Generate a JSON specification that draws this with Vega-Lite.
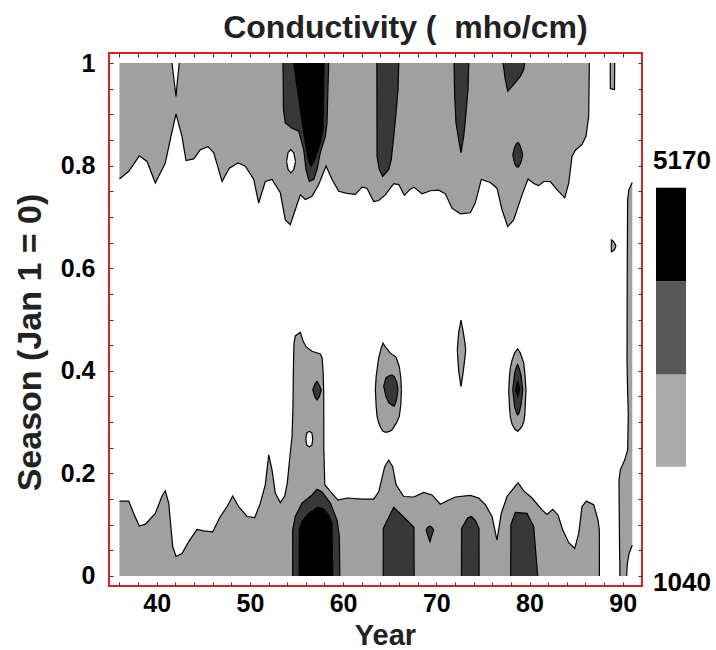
{
"$schema":"https://vega.github.io/schema/vega-lite/v6.json",
"background":"white",
"padding":{"left":12,"top":12,"right":0,"bottom":0},
"title":{"text":"Conductivity (\u00a0\u00a0mho/cm)","font":"Liberation Sans","fontSize":32,"fontWeight":"bold","color":"#222222","anchor":"middle","frame":"bounds","dx":44,"offset":5},
"config":{"font":"Liberation Sans"},
"datasets":{
"A":[
{"s":"T","lv":1,"e":"t","x":36.0,"lo":0.774,"hi":1},{"s":"T","lv":1,"e":"t","x":37.0,"lo":0.789,"hi":1},{"s":"T","lv":1,"e":"t","x":38.13,"lo":0.819,"hi":1},{"s":"T","lv":1,"e":"t","x":38.96,"lo":0.808,"hi":1},{"s":"T","lv":1,"e":"t","x":39.85,"lo":0.766,"hi":1},{"s":"T","lv":1,"e":"t","x":40.92,"lo":0.805,"hi":1},{"s":"T","lv":1,"e":"t","x":41.46,"lo":0.851,"hi":1},{"s":"T","lv":1,"e":"t","x":42.07,"lo":0.901,"hi":1},{"s":"T","lv":1,"e":"t","x":42.71,"lo":0.857,"hi":1},{"s":"T","lv":1,"e":"t","x":43.14,"lo":0.81,"hi":1},{"s":"T","lv":1,"e":"t","x":43.97,"lo":0.813,"hi":1},{"s":"T","lv":1,"e":"t","x":44.68,"lo":0.831,"hi":1},{"s":"T","lv":1,"e":"t","x":45.5,"lo":0.837,"hi":1},{"s":"T","lv":1,"e":"t","x":46.12,"lo":0.825,"hi":1},{"s":"T","lv":1,"e":"t","x":47.01,"lo":0.769,"hi":1},{"s":"T","lv":1,"e":"t","x":47.79,"lo":0.795,"hi":1},{"s":"T","lv":1,"e":"t","x":48.72,"lo":0.805,"hi":1},{"s":"T","lv":1,"e":"t","x":49.51,"lo":0.799,"hi":1},{"s":"T","lv":1,"e":"t","x":50.41,"lo":0.773,"hi":1},{"s":"T","lv":1,"e":"t","x":50.94,"lo":0.727,"hi":1},{"s":"T","lv":1,"e":"t","x":51.65,"lo":0.769,"hi":1},{"s":"T","lv":1,"e":"t","x":52.37,"lo":0.773,"hi":1},{"s":"T","lv":1,"e":"t","x":53.26,"lo":0.747,"hi":1},{"s":"T","lv":1,"e":"t","x":53.8,"lo":0.694,"hi":1},{"s":"T","lv":1,"e":"t","x":54.33,"lo":0.685,"hi":1},{"s":"T","lv":1,"e":"t","x":54.87,"lo":0.714,"hi":1},{"s":"T","lv":1,"e":"t","x":55.41,"lo":0.743,"hi":1},{"s":"T","lv":1,"e":"t","x":55.94,"lo":0.734,"hi":1},{"s":"T","lv":1,"e":"t","x":56.66,"lo":0.74,"hi":1},{"s":"T","lv":1,"e":"t","x":57.38,"lo":0.763,"hi":1},{"s":"T","lv":1,"e":"t","x":58.17,"lo":0.799,"hi":1},{"s":"T","lv":1,"e":"t","x":58.81,"lo":0.773,"hi":1},{"s":"T","lv":1,"e":"t","x":59.53,"lo":0.75,"hi":1},{"s":"T","lv":1,"e":"t","x":60.4,"lo":0.746,"hi":1},{"s":"T","lv":1,"e":"t","x":61.31,"lo":0.744,"hi":1},{"s":"T","lv":1,"e":"t","x":62.03,"lo":0.758,"hi":1},{"s":"T","lv":1,"e":"t","x":62.56,"lo":0.756,"hi":1},{"s":"T","lv":1,"e":"t","x":63.28,"lo":0.73,"hi":1},{"s":"T","lv":1,"e":"t","x":63.82,"lo":0.732,"hi":1},{"s":"T","lv":1,"e":"t","x":64.53,"lo":0.743,"hi":1},{"s":"T","lv":1,"e":"t","x":65.43,"lo":0.765,"hi":1},{"s":"T","lv":1,"e":"t","x":65.97,"lo":0.763,"hi":1},{"s":"T","lv":1,"e":"t","x":66.57,"lo":0.742,"hi":1},{"s":"T","lv":1,"e":"t","x":67.21,"lo":0.754,"hi":1},{"s":"T","lv":1,"e":"t","x":67.58,"lo":0.758,"hi":1},{"s":"T","lv":1,"e":"t","x":68.47,"lo":0.745,"hi":1},{"s":"T","lv":1,"e":"t","x":69.36,"lo":0.751,"hi":1},{"s":"T","lv":1,"e":"t","x":70.26,"lo":0.752,"hi":1},{"s":"T","lv":1,"e":"t","x":70.97,"lo":0.745,"hi":1},{"s":"T","lv":1,"e":"t","x":71.68,"lo":0.717,"hi":1},{"s":"T","lv":1,"e":"t","x":72.58,"lo":0.706,"hi":1},{"s":"T","lv":1,"e":"t","x":73.65,"lo":0.708,"hi":1},{"s":"T","lv":1,"e":"t","x":74.18,"lo":0.727,"hi":1},{"s":"T","lv":1,"e":"t","x":74.83,"lo":0.773,"hi":1},{"s":"T","lv":1,"e":"t","x":75.79,"lo":0.767,"hi":1},{"s":"T","lv":1,"e":"t","x":76.51,"lo":0.756,"hi":1},{"s":"T","lv":1,"e":"t","x":77.05,"lo":0.714,"hi":1},{"s":"T","lv":1,"e":"t","x":77.66,"lo":0.681,"hi":1},{"s":"T","lv":1,"e":"t","x":78.3,"lo":0.694,"hi":1},{"s":"T","lv":1,"e":"t","x":79.2,"lo":0.743,"hi":1},{"s":"T","lv":1,"e":"t","x":79.84,"lo":0.774,"hi":1},{"s":"T","lv":1,"e":"t","x":80.45,"lo":0.765,"hi":1},{"s":"T","lv":1,"e":"t","x":80.99,"lo":0.761,"hi":1},{"s":"T","lv":1,"e":"t","x":81.52,"lo":0.769,"hi":1},{"s":"T","lv":1,"e":"t","x":82.23,"lo":0.769,"hi":1},{"s":"T","lv":1,"e":"t","x":82.95,"lo":0.753,"hi":1},{"s":"T","lv":1,"e":"t","x":83.78,"lo":0.737,"hi":1},{"s":"T","lv":1,"e":"t","x":84.21,"lo":0.766,"hi":1},{"s":"T","lv":1,"e":"t","x":84.56,"lo":0.818,"hi":1},{"s":"T","lv":1,"e":"t","x":84.92,"lo":0.83,"hi":1},{"s":"T","lv":1,"e":"t","x":85.63,"lo":0.841,"hi":1},{"s":"T","lv":1,"e":"t","x":86.06,"lo":0.857,"hi":1},{"s":"T","lv":1,"e":"t","x":86.35,"lo":0.896,"hi":1},{"s":"T","lv":1,"e":"t","x":86.42,"lo":1.0,"hi":1},
{"s":"H1","lv":0,"e":"t","x":41.64,"lo":1.0,"hi":1},{"s":"H1","lv":0,"e":"t","x":41.87,"lo":0.965,"hi":1},{"s":"H1","lv":0,"e":"t","x":42.07,"lo":0.935,"hi":1},{"s":"H1","lv":0,"e":"t","x":42.22,"lo":0.965,"hi":1},{"s":"H1","lv":0,"e":"t","x":42.42,"lo":1.0,"hi":1},
{"s":"H2","lv":0,"e":"c","x":53.93,"lo":0.808,"hi":0.808},{"s":"H2","lv":0,"e":"c","x":54.1,"lo":0.792,"hi":0.826},{"s":"H2","lv":0,"e":"c","x":54.4,"lo":0.786,"hi":0.831},{"s":"H2","lv":0,"e":"c","x":54.7,"lo":0.792,"hi":0.825},{"s":"H2","lv":0,"e":"c","x":54.9,"lo":0.808,"hi":0.808},
{"s":"D1","lv":2,"e":"t","x":53.55,"lo":1.0,"hi":1},{"s":"D1","lv":2,"e":"t","x":53.6,"lo":0.909,"hi":1},{"s":"D1","lv":2,"e":"t","x":53.8,"lo":0.883,"hi":1},{"s":"D1","lv":2,"e":"t","x":54.52,"lo":0.873,"hi":1},{"s":"D1","lv":2,"e":"t","x":55.24,"lo":0.867,"hi":1},{"s":"D1","lv":2,"e":"t","x":55.77,"lo":0.831,"hi":1},{"s":"D1","lv":2,"e":"t","x":56.02,"lo":0.792,"hi":1},{"s":"D1","lv":2,"e":"t","x":56.37,"lo":0.769,"hi":1},{"s":"D1","lv":2,"e":"t","x":56.85,"lo":0.773,"hi":1},{"s":"D1","lv":2,"e":"t","x":57.2,"lo":0.792,"hi":1},{"s":"D1","lv":2,"e":"t","x":57.55,"lo":0.825,"hi":1},{"s":"D1","lv":2,"e":"t","x":58.09,"lo":0.857,"hi":1},{"s":"D1","lv":2,"e":"t","x":58.27,"lo":0.883,"hi":1},{"s":"D1","lv":2,"e":"t","x":58.35,"lo":0.935,"hi":1},{"s":"D1","lv":2,"e":"t","x":58.45,"lo":1.0,"hi":1},
{"s":"B1","lv":3,"e":"t","x":54.7,"lo":1.0,"hi":1},{"s":"B1","lv":3,"e":"t","x":55.05,"lo":0.955,"hi":1},{"s":"B1","lv":3,"e":"t","x":55.52,"lo":0.896,"hi":1},{"s":"B1","lv":3,"e":"t","x":55.88,"lo":0.851,"hi":1},{"s":"B1","lv":3,"e":"t","x":56.31,"lo":0.808,"hi":1},{"s":"B1","lv":3,"e":"t","x":56.59,"lo":0.799,"hi":1},{"s":"B1","lv":3,"e":"t","x":57.02,"lo":0.815,"hi":1},{"s":"B1","lv":3,"e":"t","x":57.55,"lo":0.844,"hi":1},{"s":"B1","lv":3,"e":"t","x":57.84,"lo":0.87,"hi":1},{"s":"B1","lv":3,"e":"t","x":57.92,"lo":0.935,"hi":1},{"s":"B1","lv":3,"e":"t","x":57.95,"lo":1.0,"hi":1},
{"s":"D2","lv":2,"e":"t","x":63.62,"lo":1.0,"hi":1},{"s":"D2","lv":2,"e":"t","x":63.64,"lo":0.818,"hi":1},{"s":"D2","lv":2,"e":"t","x":63.89,"lo":0.792,"hi":1},{"s":"D2","lv":2,"e":"t","x":64.25,"lo":0.779,"hi":1},{"s":"D2","lv":2,"e":"t","x":64.89,"lo":0.792,"hi":1},{"s":"D2","lv":2,"e":"t","x":65.17,"lo":0.812,"hi":1},{"s":"D2","lv":2,"e":"t","x":65.43,"lo":0.857,"hi":1},{"s":"D2","lv":2,"e":"t","x":65.68,"lo":0.903,"hi":1},{"s":"D2","lv":2,"e":"t","x":65.89,"lo":0.948,"hi":1},{"s":"D2","lv":2,"e":"t","x":65.97,"lo":1.0,"hi":1},
{"s":"D3","lv":2,"e":"t","x":71.9,"lo":1.0,"hi":1},{"s":"D3","lv":2,"e":"t","x":71.97,"lo":0.935,"hi":1},{"s":"D3","lv":2,"e":"t","x":72.11,"lo":0.883,"hi":1},{"s":"D3","lv":2,"e":"t","x":72.4,"lo":0.851,"hi":1},{"s":"D3","lv":2,"e":"t","x":72.65,"lo":0.825,"hi":1},{"s":"D3","lv":2,"e":"t","x":72.94,"lo":0.857,"hi":1},{"s":"D3","lv":2,"e":"t","x":73.19,"lo":0.903,"hi":1},{"s":"D3","lv":2,"e":"t","x":73.4,"lo":0.948,"hi":1},{"s":"D3","lv":2,"e":"t","x":73.48,"lo":1.0,"hi":1},
{"s":"D4","lv":2,"e":"t","x":77.16,"lo":1.0,"hi":1},{"s":"D4","lv":2,"e":"t","x":77.4,"lo":0.968,"hi":1},{"s":"D4","lv":2,"e":"t","x":77.66,"lo":0.945,"hi":1},{"s":"D4","lv":2,"e":"t","x":78.3,"lo":0.958,"hi":1},{"s":"D4","lv":2,"e":"t","x":79.01,"lo":0.974,"hi":1},{"s":"D4","lv":2,"e":"t","x":79.38,"lo":0.987,"hi":1},{"s":"D4","lv":2,"e":"t","x":79.48,"lo":1.0,"hi":1},
{"s":"D5","lv":2,"e":"c","x":78.2,"lo":0.821,"hi":0.821},{"s":"D5","lv":2,"e":"c","x":78.4,"lo":0.805,"hi":0.835},{"s":"D5","lv":2,"e":"c","x":78.6,"lo":0.798,"hi":0.843},{"s":"D5","lv":2,"e":"c","x":78.8,"lo":0.797,"hi":0.845},{"s":"D5","lv":2,"e":"c","x":79.0,"lo":0.803,"hi":0.838},{"s":"D5","lv":2,"e":"c","x":79.15,"lo":0.811,"hi":0.83},{"s":"D5","lv":2,"e":"c","x":79.27,"lo":0.821,"hi":0.821},
{"s":"S1","lv":1,"e":"t","x":88.66,"lo":1.0,"hi":1},{"s":"S1","lv":1,"e":"t","x":88.67,"lo":0.95,"hi":1},{"s":"S1","lv":1,"e":"t","x":89.12,"lo":0.948,"hi":1},{"s":"S1","lv":1,"e":"t","x":89.14,"lo":1.0,"hi":1},
{"s":"S2","lv":1,"e":"c","x":88.78,"lo":0.643,"hi":0.643},{"s":"S2","lv":1,"e":"c","x":88.79,"lo":0.632,"hi":0.655},{"s":"S2","lv":1,"e":"c","x":89.0,"lo":0.634,"hi":0.652},{"s":"S2","lv":1,"e":"c","x":89.15,"lo":0.637,"hi":0.648},{"s":"S2","lv":1,"e":"c","x":89.28,"lo":0.643,"hi":0.643},
{"s":"BB","lv":1,"e":"b","x":36.0,"lo":0,"hi":0.146},{"s":"BB","lv":1,"e":"b","x":37.0,"lo":0,"hi":0.146},{"s":"BB","lv":1,"e":"b","x":37.53,"lo":0,"hi":0.122},{"s":"BB","lv":1,"e":"b","x":38.13,"lo":0,"hi":0.0975},{"s":"BB","lv":1,"e":"b","x":38.78,"lo":0,"hi":0.101},{"s":"BB","lv":1,"e":"b","x":39.85,"lo":0,"hi":0.122},{"s":"BB","lv":1,"e":"b","x":40.57,"lo":0,"hi":0.156},{"s":"BB","lv":1,"e":"b","x":40.92,"lo":0,"hi":0.166},{"s":"BB","lv":1,"e":"b","x":41.29,"lo":0,"hi":0.142},{"s":"BB","lv":1,"e":"b","x":41.72,"lo":0,"hi":0.057},{"s":"BB","lv":1,"e":"b","x":42.07,"lo":0,"hi":0.038},{"s":"BB","lv":1,"e":"b","x":42.71,"lo":0,"hi":0.044},{"s":"BB","lv":1,"e":"b","x":43.43,"lo":0,"hi":0.067},{"s":"BB","lv":1,"e":"b","x":44.32,"lo":0,"hi":0.091},{"s":"BB","lv":1,"e":"b","x":45.04,"lo":0,"hi":0.088},{"s":"BB","lv":1,"e":"b","x":46.01,"lo":0,"hi":0.086},{"s":"BB","lv":1,"e":"b","x":46.82,"lo":0,"hi":0.116},{"s":"BB","lv":1,"e":"b","x":47.54,"lo":0,"hi":0.135},{"s":"BB","lv":1,"e":"b","x":48.15,"lo":0,"hi":0.156},{"s":"BB","lv":1,"e":"b","x":48.8,"lo":0,"hi":0.135},{"s":"BB","lv":1,"e":"b","x":49.69,"lo":0,"hi":0.116},{"s":"BB","lv":1,"e":"b","x":50.52,"lo":0,"hi":0.114},{"s":"BB","lv":1,"e":"b","x":51.12,"lo":0,"hi":0.142},{"s":"BB","lv":1,"e":"b","x":51.65,"lo":0,"hi":0.178},{"s":"BB","lv":1,"e":"b","x":52.02,"lo":0,"hi":0.236},{"s":"BB","lv":1,"e":"b","x":52.37,"lo":0,"hi":0.207},{"s":"BB","lv":1,"e":"b","x":52.73,"lo":0,"hi":0.161},{"s":"BB","lv":1,"e":"b","x":53.26,"lo":0,"hi":0.143},{"s":"BB","lv":1,"e":"b","x":53.73,"lo":0,"hi":0.156},{"s":"BB","lv":1,"e":"b","x":54.01,"lo":0,"hi":0.181},{"s":"BB","lv":1,"e":"b","x":54.3,"lo":0,"hi":0.235},{"s":"BB","lv":1,"e":"b","x":54.52,"lo":0,"hi":0.272},{"s":"BB","lv":1,"e":"b","x":54.62,"lo":0,"hi":0.33},{"s":"BB","lv":1,"e":"b","x":54.66,"lo":0,"hi":0.4},{"s":"BB","lv":1,"e":"b","x":54.72,"lo":0,"hi":0.452},{"s":"BB","lv":1,"e":"b","x":54.87,"lo":0,"hi":0.468},{"s":"BB","lv":1,"e":"b","x":55.41,"lo":0,"hi":0.475},{"s":"BB","lv":1,"e":"b","x":55.7,"lo":0,"hi":0.458},{"s":"BB","lv":1,"e":"b","x":56.02,"lo":0,"hi":0.447},{"s":"BB","lv":1,"e":"b","x":56.66,"lo":0,"hi":0.438},{"s":"BB","lv":1,"e":"b","x":57.55,"lo":0,"hi":0.433},{"s":"BB","lv":1,"e":"b","x":57.75,"lo":0,"hi":0.425},{"s":"BB","lv":1,"e":"b","x":57.85,"lo":0,"hi":0.4},{"s":"BB","lv":1,"e":"b","x":57.92,"lo":0,"hi":0.36},{"s":"BB","lv":1,"e":"b","x":57.93,"lo":0,"hi":0.25},{"s":"BB","lv":1,"e":"b","x":58.03,"lo":0,"hi":0.178},{"s":"BB","lv":1,"e":"b","x":58.81,"lo":0,"hi":0.161},{"s":"BB","lv":1,"e":"b","x":59.45,"lo":0,"hi":0.148},{"s":"BB","lv":1,"e":"b","x":60.42,"lo":0,"hi":0.152},{"s":"BB","lv":1,"e":"b","x":62.03,"lo":0,"hi":0.15},{"s":"BB","lv":1,"e":"b","x":63.28,"lo":0,"hi":0.15},{"s":"BB","lv":1,"e":"b","x":63.82,"lo":0,"hi":0.164},{"s":"BB","lv":1,"e":"b","x":64.46,"lo":0,"hi":0.213},{"s":"BB","lv":1,"e":"b","x":64.89,"lo":0,"hi":0.226},{"s":"BB","lv":1,"e":"b","x":65.32,"lo":0,"hi":0.213},{"s":"BB","lv":1,"e":"b","x":65.68,"lo":0,"hi":0.178},{"s":"BB","lv":1,"e":"b","x":66.5,"lo":0,"hi":0.155},{"s":"BB","lv":1,"e":"b","x":67.58,"lo":0,"hi":0.154},{"s":"BB","lv":1,"e":"b","x":68.65,"lo":0,"hi":0.163},{"s":"BB","lv":1,"e":"b","x":69.54,"lo":0,"hi":0.158},{"s":"BB","lv":1,"e":"b","x":70.43,"lo":0,"hi":0.14},{"s":"BB","lv":1,"e":"b","x":71.33,"lo":0,"hi":0.148},{"s":"BB","lv":1,"e":"b","x":72.04,"lo":0,"hi":0.154},{"s":"BB","lv":1,"e":"b","x":73.65,"lo":0,"hi":0.157},{"s":"BB","lv":1,"e":"b","x":74.55,"lo":0,"hi":0.152},{"s":"BB","lv":1,"e":"b","x":75.26,"lo":0,"hi":0.139},{"s":"BB","lv":1,"e":"b","x":75.98,"lo":0,"hi":0.116},{"s":"BB","lv":1,"e":"b","x":76.51,"lo":0,"hi":0.07},{"s":"BB","lv":1,"e":"b","x":76.97,"lo":0,"hi":0.122},{"s":"BB","lv":1,"e":"b","x":77.59,"lo":0,"hi":0.155},{"s":"BB","lv":1,"e":"b","x":78.77,"lo":0,"hi":0.182},{"s":"BB","lv":1,"e":"b","x":79.38,"lo":0,"hi":0.166},{"s":"BB","lv":1,"e":"b","x":80.27,"lo":0,"hi":0.152},{"s":"BB","lv":1,"e":"b","x":81.34,"lo":0,"hi":0.129},{"s":"BB","lv":1,"e":"b","x":81.88,"lo":0,"hi":0.12},{"s":"BB","lv":1,"e":"b","x":82.49,"lo":0,"hi":0.13},{"s":"BB","lv":1,"e":"b","x":83.06,"lo":0,"hi":0.119},{"s":"BB","lv":1,"e":"b","x":83.56,"lo":0,"hi":0.09},{"s":"BB","lv":1,"e":"b","x":84.21,"lo":0,"hi":0.065},{"s":"BB","lv":1,"e":"b","x":84.85,"lo":0,"hi":0.054},{"s":"BB","lv":1,"e":"b","x":85.28,"lo":0,"hi":0.083},{"s":"BB","lv":1,"e":"b","x":85.63,"lo":0,"hi":0.135},{"s":"BB","lv":1,"e":"b","x":86.09,"lo":0,"hi":0.146},{"s":"BB","lv":1,"e":"b","x":86.89,"lo":0,"hi":0.139},{"s":"BB","lv":1,"e":"b","x":87.35,"lo":0,"hi":0.109},{"s":"BB","lv":1,"e":"b","x":87.49,"lo":0,"hi":0.09},{"s":"BB","lv":1,"e":"b","x":87.5,"lo":0,"hi":0},
{"s":"H3","lv":0,"e":"c","x":56.0,"lo":0.267,"hi":0.267},{"s":"H3","lv":0,"e":"c","x":56.1,"lo":0.255,"hi":0.279},{"s":"H3","lv":0,"e":"c","x":56.38,"lo":0.252,"hi":0.282},{"s":"H3","lv":0,"e":"c","x":56.65,"lo":0.255,"hi":0.279},{"s":"H3","lv":0,"e":"c","x":56.74,"lo":0.267,"hi":0.267},
{"s":"D6","lv":2,"e":"c","x":56.74,"lo":0.363,"hi":0.363},{"s":"D6","lv":2,"e":"c","x":57.0,"lo":0.348,"hi":0.375},{"s":"D6","lv":2,"e":"c","x":57.2,"lo":0.343,"hi":0.379},{"s":"D6","lv":2,"e":"c","x":57.45,"lo":0.35,"hi":0.372},{"s":"D6","lv":2,"e":"c","x":57.66,"lo":0.363,"hi":0.363},
{"s":"L3","lv":1,"e":"c","x":63.46,"lo":0.363,"hi":0.363},{"s":"L3","lv":1,"e":"c","x":63.55,"lo":0.33,"hi":0.39},{"s":"L3","lv":1,"e":"c","x":63.64,"lo":0.311,"hi":0.402},{"s":"L3","lv":1,"e":"c","x":63.82,"lo":0.298,"hi":0.425},{"s":"L3","lv":1,"e":"c","x":64.1,"lo":0.287,"hi":0.445},{"s":"L3","lv":1,"e":"c","x":64.28,"lo":0.282,"hi":0.454},{"s":"L3","lv":1,"e":"c","x":64.6,"lo":0.28,"hi":0.445},{"s":"L3","lv":1,"e":"c","x":65.0,"lo":0.282,"hi":0.436},{"s":"L3","lv":1,"e":"c","x":65.25,"lo":0.285,"hi":0.432},{"s":"L3","lv":1,"e":"c","x":65.6,"lo":0.295,"hi":0.428},{"s":"L3","lv":1,"e":"c","x":65.71,"lo":0.298,"hi":0.425},{"s":"L3","lv":1,"e":"c","x":66.03,"lo":0.311,"hi":0.408},{"s":"L3","lv":1,"e":"c","x":66.2,"lo":0.335,"hi":0.385},{"s":"L3","lv":1,"e":"c","x":66.25,"lo":0.363,"hi":0.363},
{"s":"D7","lv":2,"e":"c","x":64.35,"lo":0.37,"hi":0.37},{"s":"D7","lv":2,"e":"c","x":64.6,"lo":0.35,"hi":0.386},{"s":"D7","lv":2,"e":"c","x":64.9,"lo":0.338,"hi":0.39},{"s":"D7","lv":2,"e":"c","x":65.25,"lo":0.333,"hi":0.392},{"s":"D7","lv":2,"e":"c","x":65.5,"lo":0.331,"hi":0.388},{"s":"D7","lv":2,"e":"c","x":65.75,"lo":0.345,"hi":0.378},{"s":"D7","lv":2,"e":"c","x":65.89,"lo":0.363,"hi":0.363},
{"s":"L4","lv":1,"e":"c","x":72.25,"lo":0.44,"hi":0.44},{"s":"L4","lv":1,"e":"c","x":72.4,"lo":0.4,"hi":0.475},{"s":"L4","lv":1,"e":"c","x":72.65,"lo":0.369,"hi":0.499},{"s":"L4","lv":1,"e":"c","x":72.9,"lo":0.4,"hi":0.475},{"s":"L4","lv":1,"e":"c","x":73.1,"lo":0.43,"hi":0.45},{"s":"L4","lv":1,"e":"c","x":73.15,"lo":0.44,"hi":0.44},
{"s":"L5","lv":1,"e":"c","x":77.77,"lo":0.363,"hi":0.363},{"s":"L5","lv":1,"e":"c","x":77.85,"lo":0.33,"hi":0.39},{"s":"L5","lv":1,"e":"c","x":77.94,"lo":0.31,"hi":0.405},{"s":"L5","lv":1,"e":"c","x":78.12,"lo":0.296,"hi":0.42},{"s":"L5","lv":1,"e":"c","x":78.4,"lo":0.287,"hi":0.435},{"s":"L5","lv":1,"e":"c","x":78.73,"lo":0.282,"hi":0.443},{"s":"L5","lv":1,"e":"c","x":79.0,"lo":0.287,"hi":0.435},{"s":"L5","lv":1,"e":"c","x":79.2,"lo":0.292,"hi":0.425},{"s":"L5","lv":1,"e":"c","x":79.38,"lo":0.3,"hi":0.415},{"s":"L5","lv":1,"e":"c","x":79.5,"lo":0.315,"hi":0.395},{"s":"L5","lv":1,"e":"c","x":79.62,"lo":0.363,"hi":0.363},
{"s":"D8","lv":2,"e":"c","x":78.2,"lo":0.363,"hi":0.363},{"s":"D8","lv":2,"e":"c","x":78.4,"lo":0.33,"hi":0.395},{"s":"D8","lv":2,"e":"c","x":78.6,"lo":0.318,"hi":0.408},{"s":"D8","lv":2,"e":"c","x":78.73,"lo":0.314,"hi":0.412},{"s":"D8","lv":2,"e":"c","x":78.9,"lo":0.318,"hi":0.405},{"s":"D8","lv":2,"e":"c","x":79.1,"lo":0.335,"hi":0.39},{"s":"D8","lv":2,"e":"c","x":79.27,"lo":0.363,"hi":0.363},
{"s":"K2","lv":3,"e":"c","x":78.5,"lo":0.364,"hi":0.364},{"s":"K2","lv":3,"e":"c","x":78.73,"lo":0.35,"hi":0.379},{"s":"K2","lv":3,"e":"c","x":78.96,"lo":0.364,"hi":0.364},
{"s":"Bk1","lv":2,"e":"b","x":54.58,"lo":0,"hi":0},{"s":"Bk1","lv":2,"e":"b","x":54.59,"lo":0,"hi":0.09},{"s":"Bk1","lv":2,"e":"b","x":54.87,"lo":0,"hi":0.116},{"s":"Bk1","lv":2,"e":"b","x":55.59,"lo":0,"hi":0.142},{"s":"Bk1","lv":2,"e":"b","x":56.66,"lo":0,"hi":0.158},{"s":"Bk1","lv":2,"e":"b","x":57.2,"lo":0,"hi":0.169},{"s":"Bk1","lv":2,"e":"b","x":57.74,"lo":0,"hi":0.164},{"s":"Bk1","lv":2,"e":"b","x":58.63,"lo":0,"hi":0.142},{"s":"Bk1","lv":2,"e":"b","x":59.35,"lo":0,"hi":0.109},{"s":"Bk1","lv":2,"e":"b","x":59.6,"lo":0,"hi":0.077},{"s":"Bk1","lv":2,"e":"b","x":59.64,"lo":0,"hi":0},
{"s":"K1","lv":3,"e":"b","x":55.29,"lo":0,"hi":0},{"s":"K1","lv":3,"e":"b","x":55.3,"lo":0,"hi":0.09},{"s":"K1","lv":3,"e":"b","x":55.59,"lo":0,"hi":0.106},{"s":"K1","lv":3,"e":"b","x":56.31,"lo":0,"hi":0.122},{"s":"K1","lv":3,"e":"b","x":57.31,"lo":0,"hi":0.134},{"s":"K1","lv":3,"e":"b","x":57.92,"lo":0,"hi":0.13},{"s":"K1","lv":3,"e":"b","x":58.45,"lo":0,"hi":0.119},{"s":"K1","lv":3,"e":"b","x":58.81,"lo":0,"hi":0.103},{"s":"K1","lv":3,"e":"b","x":58.88,"lo":0,"hi":0},
{"s":"Bk2","lv":2,"e":"b","x":64.3,"lo":0,"hi":0},{"s":"Bk2","lv":2,"e":"b","x":64.31,"lo":0,"hi":0.093},{"s":"Bk2","lv":2,"e":"b","x":65.43,"lo":0,"hi":0.134},{"s":"Bk2","lv":2,"e":"b","x":67.6,"lo":0,"hi":0.095},{"s":"Bk2","lv":2,"e":"b","x":67.62,"lo":0,"hi":0},
{"s":"Bk3","lv":2,"e":"c","x":68.9,"lo":0.09,"hi":0.09},{"s":"Bk3","lv":2,"e":"c","x":69.1,"lo":0.078,"hi":0.095},{"s":"Bk3","lv":2,"e":"c","x":69.32,"lo":0.067,"hi":0.097},{"s":"Bk3","lv":2,"e":"c","x":69.5,"lo":0.078,"hi":0.095},{"s":"Bk3","lv":2,"e":"c","x":69.72,"lo":0.09,"hi":0.09},
{"s":"Bk4","lv":2,"e":"b","x":72.7,"lo":0,"hi":0},{"s":"Bk4","lv":2,"e":"b","x":72.71,"lo":0,"hi":0.093},{"s":"Bk4","lv":2,"e":"b","x":73.35,"lo":0,"hi":0.113},{"s":"Bk4","lv":2,"e":"b","x":73.76,"lo":0,"hi":0.116},{"s":"Bk4","lv":2,"e":"b","x":74.2,"lo":0,"hi":0.108},{"s":"Bk4","lv":2,"e":"b","x":74.58,"lo":0,"hi":0.093},{"s":"Bk4","lv":2,"e":"b","x":74.59,"lo":0,"hi":0},
{"s":"Bk5","lv":2,"e":"b","x":77.98,"lo":0,"hi":0},{"s":"Bk5","lv":2,"e":"b","x":78.0,"lo":0,"hi":0.1},{"s":"Bk5","lv":2,"e":"b","x":78.48,"lo":0,"hi":0.124},{"s":"Bk5","lv":2,"e":"b","x":79.73,"lo":0,"hi":0.122},{"s":"Bk5","lv":2,"e":"b","x":80.45,"lo":0,"hi":0.096},{"s":"Bk5","lv":2,"e":"b","x":80.7,"lo":0,"hi":0.04},{"s":"Bk5","lv":2,"e":"b","x":80.88,"lo":0,"hi":0}
],
"R":[
{"y":0.767,"xl":91.02,"xr":91.03},{"y":0.753,"xl":90.67,"xr":91.03},{"y":0.734,"xl":90.53,"xr":91.03},{"y":0.616,"xl":90.49,"xr":91.03},{"y":0.421,"xl":90.46,"xr":91.03},{"y":0.356,"xl":90.53,"xr":91.03},{"y":0.317,"xl":90.6,"xr":91.03},{"y":0.246,"xl":90.53,"xr":91.03},{"y":0.226,"xl":90.21,"xr":91.03},{"y":0.207,"xl":89.74,"xr":91.03},{"y":0.187,"xl":89.6,"xr":91.03},{"y":0.1,"xl":89.64,"xr":91.03},{"y":0.06,"xl":89.66,"xr":91.03},{"y":0.045,"xl":89.67,"xr":90.7},{"y":0.025,"xl":89.69,"xr":90.5},{"y":0.0,"xl":89.7,"xr":90.42}
],
"LEG":[{"lv":1,"lo":2178,"hi":3083},{"lv":2,"lo":3083,"hi":3997},{"lv":3,"lo":3997,"hi":4912}],
"LAB":[{"v":5170},{"v":1040}]
},
"spacing":9,
"hconcat":[
{
"width":533,"height":533,
"view":{"stroke":"#d92323","strokeWidth":2},
"resolve":{"axis":{"x":"independent","y":"independent"}},
"layer":[
{"data":{"name":"A"},"transform":[{"filter":"datum.lv == 1"}],
 "mark":{"type":"area","orient":"vertical","color":"#a0a0a0"},
 "encoding":{
  "x":{"field":"x","type":"quantitative","scale":{"domain":[34.88,92.07],"nice":false,"zero":false},
   "axis":{"orient":"bottom","values":[36,38,40,42,44,46,48,50,52,54,56,58,60,62,64,66,68,70,72,74,76,78,80,82,84,86,88,90],"labelExpr":"datum.value % 10 === 0 ? format(datum.value, 'd') : ''","domain":false,"grid":false,"tickSize":-4,"tickColor":"#333333","tickWidth":1,"labelFont":"Liberation Sans","labelFontSize":25,"labelFontWeight":"bold","labelColor":"black","labelPadding":9,"labelFlush":false,"labelOverlap":false,"title":"Year","titleFont":"Liberation Sans","titleFontSize":29,"titleFontWeight":"bold","titleColor":"#222222","titleX":276,"titleY":58,"titleBaseline":"alphabetic","titleAlign":"center"}},
  "y":{"field":"lo","type":"quantitative","stack":null,"scale":{"domain":[-0.0195,1.0195],"nice":false,"zero":false},
   "axis":{"orient":"left","values":[0,0.05,0.1,0.15,0.2,0.25,0.3,0.35,0.4,0.45,0.5,0.55,0.6,0.65,0.7,0.75,0.8,0.85,0.9,0.95,1],"labelExpr":"indexof([0,0.2,0.4,0.6,0.8,1], datum.value) >= 0 ? format(datum.value, '~g') : ''","domain":false,"grid":false,"tickSize":-4,"tickColor":"#333333","tickWidth":1,"labelFont":"Liberation Sans","labelFontSize":25,"labelFontWeight":"bold","labelColor":"black","labelPadding":18,"labelFlush":false,"labelOverlap":false,"title":"Season (Jan 1 = 0)","titleFont":"Liberation Sans","titleFontSize":34,"titleFontWeight":"bold","titleColor":"#222222","titleX":-69,"titleY":289,"titleBaseline":"alphabetic","titleAlign":"center","titleAngle":-90}},
  "y2":{"field":"hi"},
  "detail":{"field":"s"}
 }},
{"data":{"name":"R"},
 "mark":{"type":"area","orient":"horizontal","color":"#a0a0a0"},
 "encoding":{
  "y":{"field":"y","type":"quantitative","scale":{"domain":[-0.0195,1.0195],"nice":false,"zero":false},"axis":null},
  "x":{"field":"xl","type":"quantitative","stack":null,"scale":{"domain":[34.88,92.07],"nice":false,"zero":false},"axis":null},
  "x2":{"field":"xr"}
 }},
{"data":{"name":"A"},"transform":[{"filter":"datum.lv == 2"}],
 "mark":{"type":"area","orient":"vertical","color":"#383838"},
 "encoding":{
  "x":{"field":"x","type":"quantitative","scale":{"domain":[34.88,92.07],"nice":false,"zero":false},"axis":null},
  "y":{"field":"lo","type":"quantitative","stack":null,"scale":{"domain":[-0.0195,1.0195],"nice":false,"zero":false},"axis":null},
  "y2":{"field":"hi"},"detail":{"field":"s"}
 }},
{"data":{"name":"A"},"transform":[{"filter":"datum.lv == 3"}],
 "mark":{"type":"area","orient":"vertical","color":"#000000"},
 "encoding":{
  "x":{"field":"x","type":"quantitative","scale":{"domain":[34.88,92.07],"nice":false,"zero":false},"axis":null},
  "y":{"field":"lo","type":"quantitative","stack":null,"scale":{"domain":[-0.0195,1.0195],"nice":false,"zero":false},"axis":null},
  "y2":{"field":"hi"},"detail":{"field":"s"}
 }},
{"data":{"name":"A"},"transform":[{"filter":"datum.lv == 0"}],
 "mark":{"type":"area","orient":"vertical","color":"#ffffff"},
 "encoding":{
  "x":{"field":"x","type":"quantitative","scale":{"domain":[34.88,92.07],"nice":false,"zero":false},"axis":null},
  "y":{"field":"lo","type":"quantitative","stack":null,"scale":{"domain":[-0.0195,1.0195],"nice":false,"zero":false},"axis":null},
  "y2":{"field":"hi"},"detail":{"field":"s"}
 }},
{"data":{"name":"A"},"transform":[{"filter":"datum.e != 'b'"}],
 "mark":{"type":"line","color":"black","strokeWidth":1.2},
 "encoding":{
  "x":{"field":"x","type":"quantitative","scale":{"domain":[34.88,92.07],"nice":false,"zero":false},
   "axis":{"orient":"top","values":[36,38,40,42,44,46,48,50,52,54,56,58,60,62,64,66,68,70,72,74,76,78,80,82,84,86,88,90],"labels":false,"domain":false,"grid":false,"tickSize":-4,"tickColor":"#333333","tickWidth":1,"title":null}},
  "y":{"field":"lo","type":"quantitative","scale":{"domain":[-0.0195,1.0195],"nice":false,"zero":false},
   "axis":{"orient":"right","values":[0,0.05,0.1,0.15,0.2,0.25,0.3,0.35,0.4,0.45,0.5,0.55,0.6,0.65,0.7,0.75,0.8,0.85,0.9,0.95,1],"labels":false,"domain":false,"grid":false,"tickSize":-4,"tickColor":"#333333","tickWidth":1,"title":null}},
  "detail":{"field":"s"}
 }},
{"data":{"name":"A"},"transform":[{"filter":"datum.e != 't'"}],
 "mark":{"type":"line","color":"black","strokeWidth":1.2},
 "encoding":{
  "x":{"field":"x","type":"quantitative","scale":{"domain":[34.88,92.07],"nice":false,"zero":false},"axis":null},
  "y":{"field":"hi","type":"quantitative","scale":{"domain":[-0.0195,1.0195],"nice":false,"zero":false},"axis":null},
  "detail":{"field":"s"}
 }},
{"data":{"name":"R"},
 "mark":{"type":"line","color":"black","strokeWidth":1.2},
 "encoding":{
  "x":{"field":"xl","type":"quantitative","scale":{"domain":[34.88,92.07],"nice":false,"zero":false},"axis":null},
  "y":{"field":"y","type":"quantitative","scale":{"domain":[-0.0195,1.0195],"nice":false,"zero":false},"axis":null},
  "order":{"field":"y"}
 }},
{"data":{"name":"R"},"transform":[{"filter":"datum.y <= 0.061"}],
 "mark":{"type":"line","color":"black","strokeWidth":1.2},
 "encoding":{
  "x":{"field":"xr","type":"quantitative","scale":{"domain":[34.88,92.07],"nice":false,"zero":false},"axis":null},
  "y":{"field":"y","type":"quantitative","scale":{"domain":[-0.0195,1.0195],"nice":false,"zero":false},"axis":null},
  "order":{"field":"y"}
 }}
]
},
{
"width":30,"height":533,
"view":{"stroke":null},
"layer":[
{"data":{"name":"LEG"},
 "mark":{"type":"rect"},
 "encoding":{
  "y":{"field":"lo","type":"quantitative","scale":{"domain":[1010.6,6233],"nice":false,"zero":false},"axis":null},
  "y2":{"field":"hi"},
  "color":{"field":"lv","type":"ordinal","scale":{"domain":[1,2,3],"range":["#aaaaaa","#585858","#000000"]},"legend":null}
 }},
{"data":{"name":"LAB"},
 "mark":{"type":"text","align":"left","baseline":"middle","dx":-18,"font":"Liberation Sans","fontSize":26,"fontWeight":"bold","color":"black"},
 "encoding":{
  "y":{"field":"v","type":"quantitative","scale":{"domain":[1010.6,6233],"nice":false,"zero":false},"axis":null},
  "text":{"field":"v","type":"quantitative","format":"d"}
 }}
]
}
]
}
